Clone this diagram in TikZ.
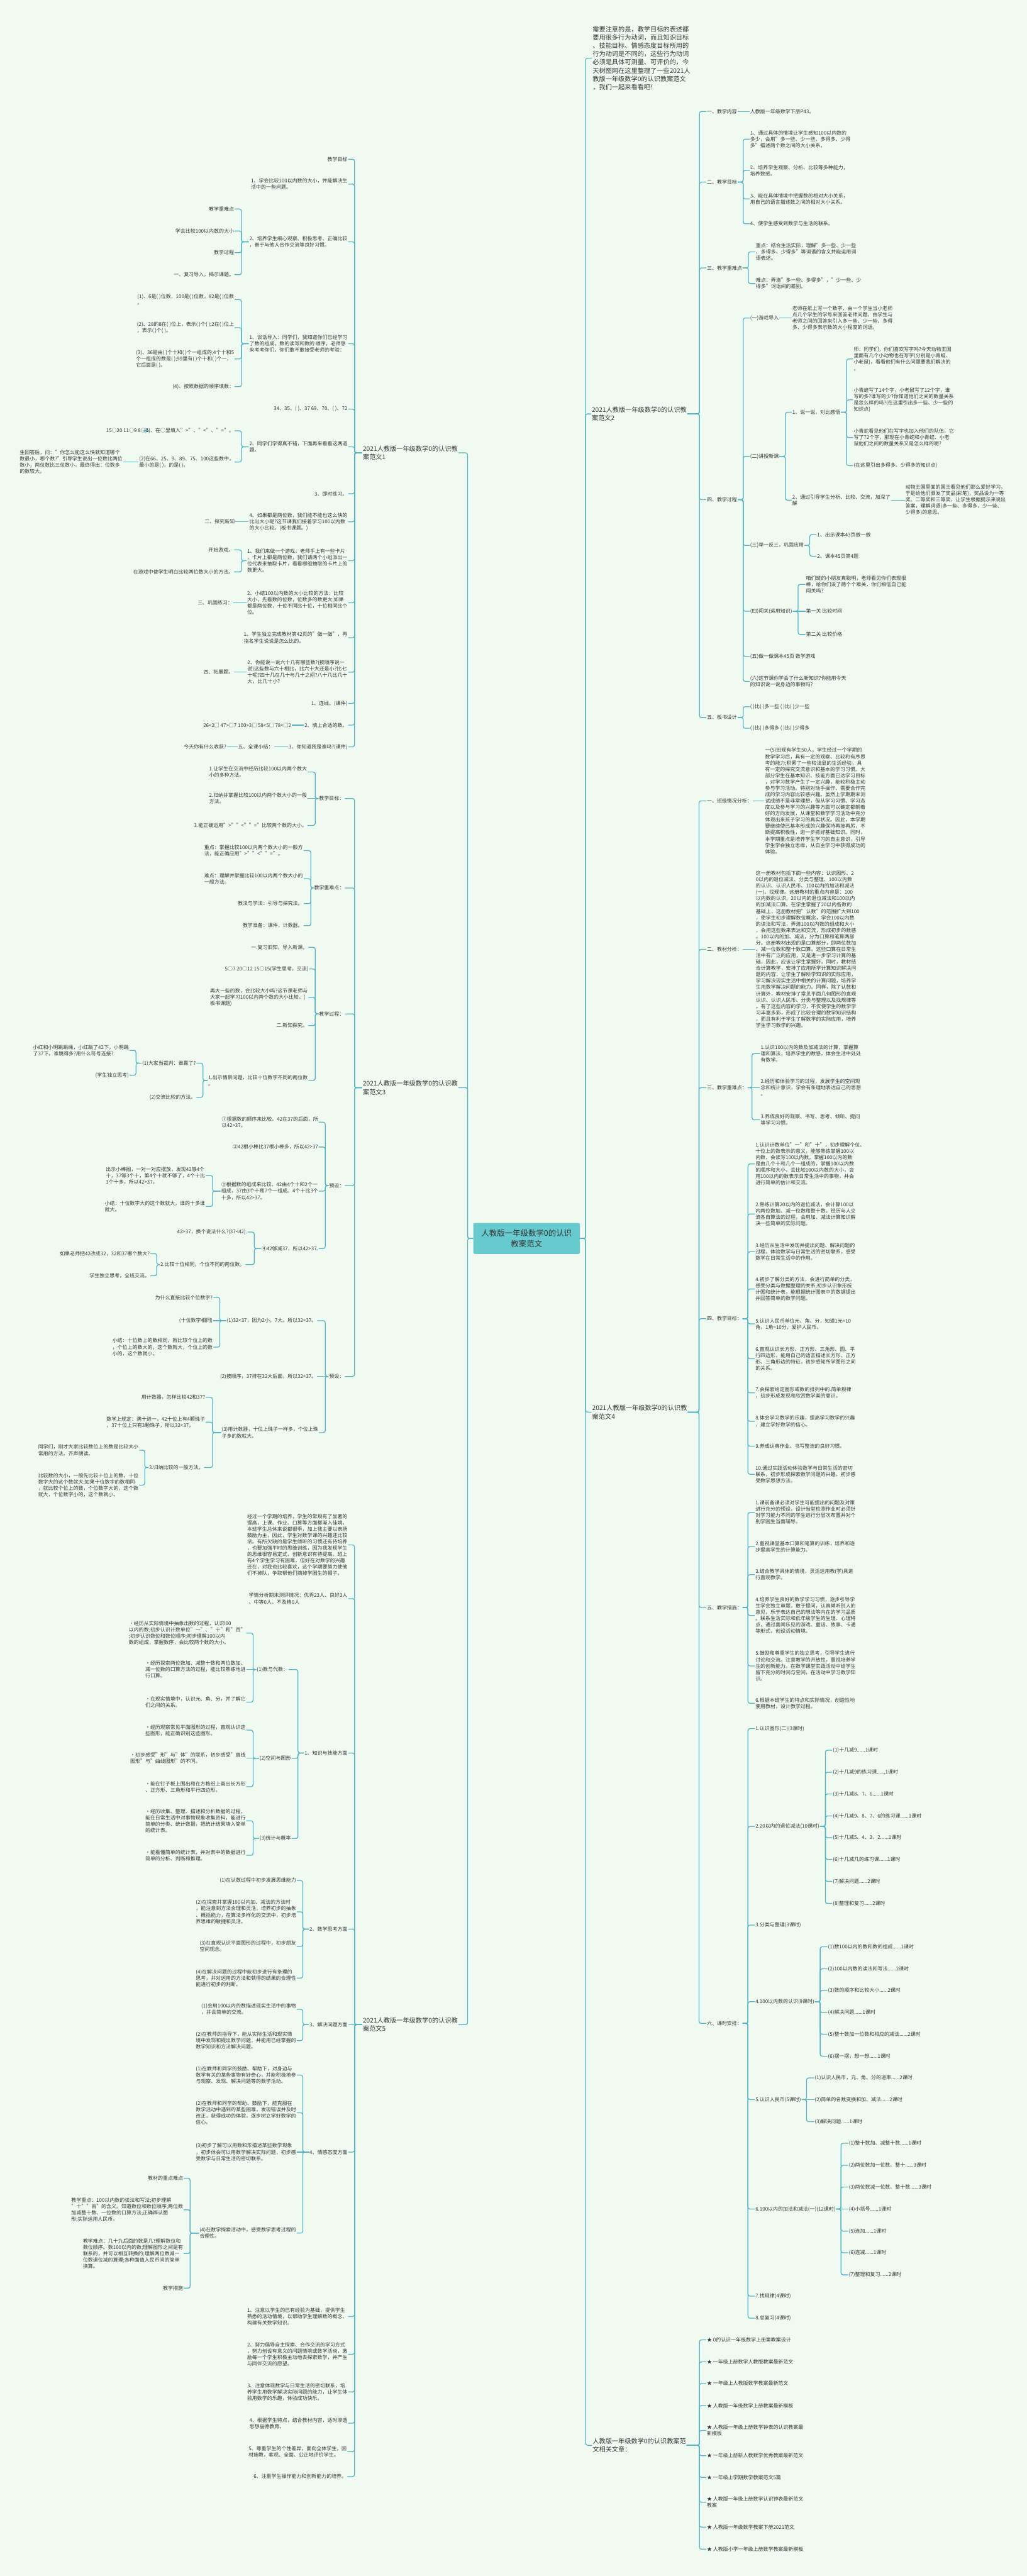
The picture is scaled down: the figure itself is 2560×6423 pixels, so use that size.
\documentclass[tikz,border=0pt]{standalone}
\usepackage{fontspec}
\setmainfont{Noto Sans CJK SC}
\definecolor{bg}{HTML}{F0FAF1}
\definecolor{lc}{HTML}{55B3C3}
\definecolor{cf}{HTML}{66CACE}
\definecolor{txt}{HTML}{333333}
\newcommand\szs{\fontsize{12.5}{15.8}\selectfont}
\newcommand\szb{\fontsize{16}{21.5}\selectfont}
\newcommand\szi{\fontsize{16}{20.7}\selectfont}
\newcommand\szc{\fontsize{19.5}{27}\selectfont}
\tikzset{
  base/.style={font=\szs, text=txt, align=left, inner sep=1.5pt},
  L/.style={base, anchor=east},
  R/.style={base, anchor=west},
  LB/.style={base, font=\szb, anchor=east},
  RB/.style={base, font=\szb, anchor=west},
  conn/.style={draw=lc, line width=2pt, rounded corners=5pt},
  ctr/.style={fill=cf, rounded corners=4pt, font=\szc, text=txt, align=center, minimum width=266pt, minimum height=77pt, inner sep=2pt}
}
\newcommand\rgrp[3]{\foreach \cc in {#3}{\draw[conn] (#1.east) -- (#1.east -| #2,0) -- (\cc.west -| #2,0) -- (\cc.west);}}
\newcommand\lgrp[3]{\foreach \cc in {#3}{\draw[conn] (#1.west) -- (#1.west -| #2,0) -- (\cc.east -| #2,0) -- (\cc.east);}}
\newcommand\rstr[2]{\draw[conn] (#1.east) -- (#2.west);}
\newcommand\lstr[2]{\draw[conn] (#1.west) -- (#2.east);}
\begin{document}
\begin{tikzpicture}[x=1pt,y=-1pt]
\fill[bg] (0,0) rectangle (2560,6423);
\useasboundingbox (0,0) rectangle (2560,6423);
% ---------------- center
\node[ctr] (C) at (1313,3088) {人教版一年级数学0的认识\\教案范文};
\node[RB, font=\szi] (P0) at (1476,145) {需要注意的是，教学目标的表述都\\要用很多行为动词，而且知识目标\\、技能目标、情感态度目标所用的\\行为动词是不同的，这些行为动词\\必须是具体可测量、可评价的，今\\天树图网在这里整理了一些2021人\\教版一年级数学0的认识教案范文\\，我们一起来看看吧！};
\node[RB] (B2) at (1474,1032) {2021人教版一年级数学0的认识教\\案范文2};
\node[RB] (B4) at (1475,3521) {2021人教版一年级数学0的认识教\\案范文4};
\node[RB] (BR) at (1476,6097) {人教版一年级数学0的认识教案范\\文相关文章：};
\rgrp{C}{1460}{P0,B2,B4,BR}
\node[LB] (B1) at (1143,1129) {2021人教版一年级数学0的认识教\\案范文1};
\node[LB] (B3) at (1143,2712) {2021人教版一年级数学0的认识教\\案范文3};
\node[LB] (B5) at (1143,5048) {2021人教版一年级数学0的认识教\\案范文5};
\lgrp{C}{1166}{B1,B3,B5}
% ---------------- branch 1
\node[L] (n1a) at (868,397) {教学目标};
\node[L] (n1b) at (868,459) {1、学会比较100以内数的大小，并能解决生\\活中的一些问题。};
\node[L] (n1c) at (868,603) {2、培养学生细心观察、积极思考、正确比较\\，善于与他人合作交流等良好习惯。};
\node[L] (n1c1) at (585,521) {教学重难点};
\node[L] (n1c2) at (585,576) {学会比较100以内数的大小};
\node[L] (n1c3) at (585,630) {教学过程};
\node[L] (n1c4) at (585,685) {一、复习导入，揭示课题。};
\lgrp{n1c}{602}{n1c1,n1c2,n1c3,n1c4}
\node[L] (n1d) at (868,857) {1、谈话导入：同学们，我知道你们已经学习\\了数的组成，数的读写和数的 顺序，老师想\\来考考你们，你们敢不敢接受老师的考验：};
\node[L] (n1d1) at (585,747) {(1)、6是( )位数，100是( )位数，82是( )位数\\。};
\node[L] (n1d2) at (585,817) {(2)、28的8在( )位上，表示( )个( );2在( )位上\\，表示( )个( )。};
\node[L] (n1d3) at (585,895) {(3)、36是由( )个十和( )个一组成的;4个十和5\\个一组成的数是( );99里有( )个十和( )个一，\\它后面是( )。};
\node[L] (n1d4) at (585,964) {(4)、按照数据的顺序填数：};
\lgrp{n1d}{602}{n1d1,n1d2,n1d3,n1d4}
\node[L] (n1e) at (868,1020) {34、35、( )、37 69、70、( )、72};
\node[L] (n1f) at (868,1114) {2、同学们学得真不错，下面再来看看这两道\\题。};
\node[L] (n1f1) at (585,1074) {(1)、在○里填入">"、"<"、"="。};
\node[L] (n1f1a) at (372,1074) {15○20 11○9 8○8};
\node[L] (n1f2) at (585,1152) {(2)在66、25、9、89、75、100这些数中，\\最小的是( )，的是( )。};
\node[L] (n1f2a) at (307,1152) {生回答后，问："你怎么能这么快就知道哪个\\数最小，哪个数?"引导学生说出一位数比两位\\数小，两位数比三位数小，最终得出：位数多\\的数较大。};
\lgrp{n1f}{602}{n1f1,n1f2}
\lstr{n1f1}{n1f1a}
\lstr{n1f2}{n1f2a}
\node[L] (n1g) at (868,1231) {3、即时练习。};
\node[L] (n1h) at (868,1301) {4、如果都是两位数，我们能不能也这么快的\\比出大小呢?这节课我们接着学习100以内数\\的大小比较。(板书课题。)};
\node[L] (n1h1) at (587,1301) {二、探究新知};
\lstr{n1h}{n1h1}
\node[L] (n1i) at (868,1398) {1、我们来做一个游戏，老师手上有一些卡片\\，卡片上都是两位数，我们请两个小组派出一\\位代表来抽取卡片，看看哪组抽取的卡片上的\\数更大。};
\node[L] (n1i1) at (584,1371) {开始游戏。};
\node[L] (n1i2) at (584,1426) {在游戏中使学生明白比较两位数大小的方法。};
\lgrp{n1i}{602}{n1i1,n1i2}
\node[L] (n1j) at (868,1503) {2、小结100以内数的大小比较的方法：比较\\大小，先看数的位数，位数多的数更大;如果\\都是两位数，十位不同比十位，十位相同比个\\位。};
\node[L] (n1j1) at (582,1503) {三、巩固练习：};
\lstr{n1j}{n1j1}
\node[L] (n1k) at (868,1590) {1、学生独立完成教材第42页的"做一做"，再\\指名学生说说是怎么比的。};
\node[L] (n1l) at (868,1676) {2、你能说一说六十几有哪些数?(按顺序说一\\说)这些数与六十相比，比六十大还是小?比七\\十呢?四十几在几十与几十之间?八十几比几十\\大，比几十小?};
\node[L] (n1l1) at (584,1676) {四、拓展题。};
\lstr{n1l}{n1l1}
\node[L] (n1m) at (868,1754) {1、连线。(课件)};
\node[L] (n1n) at (868,1808) {2、填上合适的数。};
\node[L] (n1n1) at (728,1808) {26<2□ 47>□7 100>3□ 58<5□ 78<□2};
\lstr{n1n}{n1n1}
\node[L] (n1o) at (868,1862) {3、你知道我是谁吗?(课件)};
\node[L] (n1o1) at (683,1862) {五、全课小结：};
\node[L] (n1o2) at (566,1862) {今天你有什么收获?};
\lstr{n1o}{n1o1}
\lstr{n1o1}{n1o2}
\lgrp{B1}{884}{n1a,n1b,n1c,n1d,n1e,n1f,n1g,n1h,n1i,n1j,n1k,n1l,n1m,n1n,n1o}
% ---------------- branch 3
\node[L] (n3a) at (860,1991) {教学目标：};
\node[L] (n3a1) at (767,1925) {1.让学生在交流中经历比较100以内两个数大\\小的多种方法。};
\node[L] (n3a2) at (767,1991) {2.归纳并掌握比较100以内两个数大小的一般\\方法。};
\node[L] (n3a3) at (767,2058) {3.能正确运用">""<""="比较两个数的大小。};
\lgrp{n3a}{786}{n3a1,n3a3}
\lstr{n3a}{n3a2}
\node[L] (n3b) at (860,2214) {教学重难点：};
\node[L] (n3b1) at (757,2121) {重点：掌握比较100以内两个数大小的一般方\\法，能正确应用">""<""="。};
\node[L] (n3b2) at (757,2191) {难点：理解并掌握比较100以内两个数大小的\\一般方法。};
\node[L] (n3b3) at (757,2253) {教法与学法：引导与探究法。};
\node[L] (n3b4) at (757,2308) {教学准备：课件，计数器。};
\lgrp{n3b}{775}{n3b1,n3b2,n3b3,n3b4}
\node[L] (n3c) at (860,2528) {教学过程：};
\node[L] (n3c1) at (769,2362) {一.复习旧知，导入新课。};
\node[L] (n3c2) at (771,2416) {5○7 20○12 15○15(学生思考，交流)};
\node[L] (n3c3) at (769,2487) {再大一些的数，会比较大小吗?这节课老师与\\大家一起学习100以内两个数的大小比较。(\\板书课题)};
\node[L] (n3c4) at (769,2557) {二.新知探究。};
\node[L] (n3c5) at (769,2694) {1.出示情景问题，比较十位数字不同的两位数\\。};
\lgrp{n3c}{786}{n3c1,n3c2,n3c3,n3c4,n3c5}
\node[L] (n3c5a) at (490,2651) {(1)大家当裁判：谁赢了?};
\node[L] (n3c5b) at (490,2736) {(2)交流比较的方法。};
\lgrp{n3c5}{506}{n3c5a,n3c5b}
\node[L] (n3c5a1) at (323,2619) {小红和小明跳跳绳，小红跳了42下，小明跳\\了37下。谁跳得多?用什么符号连接?};
\node[L] (n3c5a2) at (323,2681) {(学生独立思考)};
\lgrp{n3c5a}{339}{n3c5a1,n3c5a2}
\node[L] (n3d) at (860,2956) {预设：};
\node[L] (n3d1) at (795,2798) {①根据数的顺序来比较。42在37的后面，所\\以42>37。};
\node[L] (n3d2) at (795,2860) {②42根小棒比37根小棒多，所以42>37};
\node[L] (n3d3) at (795,2970) {③根据数的组成来比较。42由4个十和2个一\\组成，37由3个十和7个一组成。4个十比3个\\十多，所以42>37。};
\node[L] (n3d4) at (795,3113) {④42够减37，所以42>37.};
\lgrp{n3d}{811}{n3d1,n3d2,n3d3,n3d4}
\node[L] (n3d3a) at (513,2931) {出示小棒图，一对一对应摆放，发现42够4个\\十，37够3个十，第4个十就不够了，4个十比\\3个十多，所以42>37。};
\node[L] (n3d3b) at (513,3008) {小结：十位数字大的这个数就大，谁的十多谁\\就大。};
\lgrp{n3d3}{530}{n3d3a,n3d3b}
\node[L] (n3d4a) at (618,3072) {42>37，换个说法什么?(37<42).};
\node[L] (n3d4b) at (612,3153) {2.比较十位相同，个位不同的两位数。};
\lgrp{n3d4}{634}{n3d4a,n3d4b}
\node[L] (n3d4b1) at (375,3126) {如果老师把42改成32，32和37哪个数大?};
\node[L] (n3d4b2) at (375,3181) {学生独立思考，全班交流。};
\lgrp{n3d4b}{391}{n3d4b1,n3d4b2}
\node[L] (n3e) at (860,3432) {预设：};
\node[L] (n3e1) at (791,3293) {(1)32<37，因为2小，7大。所以32<37。};
\node[L] (n3e2) at (791,3432) {(2)按顺序，37排在32大后面，所以32<37。};
\node[L] (n3e3) at (795,3572) {(3)用计数器，十位上珠子一样多，个位上珠\\子多的数就大。};
\lgrp{n3e}{811}{n3e1,n3e3}
\lstr{n3e}{n3e2}
\node[L] (n3e1a) at (532,3235) {为什么直接比较个位数字?};
\node[L] (n3e1b) at (532,3293) {(十位数字相同)};
\node[L] (n3e1c) at (532,3359) {小结：十位数上的数相同，就比较个位上的数\\，个位上的数大的，这个数就大，个位上的数\\小的，这个数就小。};
\lgrp{n3e1}{548}{n3e1a,n3e1c}
\lstr{n3e1}{n3e1b}
\node[L] (n3e3a) at (513,3484) {用计数器，怎样比较42和37?};
\node[L] (n3e3b) at (513,3546) {数学上规定：满十进一，42十位上有4颗珠子\\，37十位上只有3颗珠子，所以32<37。};
\node[L] (n3e3c) at (509,3659) {3.归纳比较的一般方法。};
\lgrp{n3e3}{530}{n3e3a,n3e3b,n3e3c}
\node[L] (n3e3c1) at (347,3616) {同学们，刚才大家比较数位上的数是比较大小\\常用的方法。齐声朗读。};
\node[L] (n3e3c2) at (347,3703) {比较数的大小，一般先比较十位上的数，十位\\数字大的这个数就大;如果十位数字的数相同\\，就比较个位上的数，个位数字大的，这个数\\就大，个位数字小的，这个数就小。};
\lgrp{n3e3c}{361}{n3e3c1,n3e3c2}
\lgrp{B3}{884}{n3a,n3b,n3c,n3d,n3e}
% ---------------- branch 5
\node[L] (n5a) at (868,3852) {经过一个学期的培养，学生的常规有了显著的\\提高，上课、作业、口算等方面都渐入佳境，\\本班学生总体来说都很乖，加上我主要以表扬\\鼓励为主，因此，学生对数学课的兴趣还比较\\浓。有所欠缺的是学生倾听的习惯还有待培养\\，也要加强平时的思维训练，因为我发现学生\\的思维很容易定式，创新意识有待提高。班上\\有4个学生学习有困难，但好在对数学的兴趣\\还在，对我也比较喜欢，这个学期要努力使他\\们不掉队，争取帮他们摘掉学困生的帽子。};
\node[L] (n5b) at (868,3986) {学情分析期末测评情况：优秀23人、良好3人\\、中等0人、不及格0人};
\node[L] (n5c) at (868,4371) {1、知识与技能方面};
\node[L] (n5c1) at (720,4163) {(1)数与代数：};
\node[L] (n5c2) at (727,4384) {(2)空间与图形};
\node[L] (n5c3) at (727,4584) {(3)统计与概率};
\lgrp{n5c}{743}{n5c1,n5c2,n5c3}
\node[L] (n5c1a) at (614,4072) {·经历从实际情境中抽象出数的过程，认识l00\\以内的数;初步认识计数单位"一"、"十"和"百"\\;初步认识数位和数位顺序;初步理解100以内\\数的组成，掌握数序，会比较两个数的大小。};
\node[L] (n5c1b) at (614,4163) {·经历探索两位数加、减整十数和两位数加、\\减一位数的口算方法的过程，能比较熟练地进\\行口算。};
\node[L] (n5c1c) at (614,4244) {·在现实情境中，认识元、角、分，并了解它\\们之间的关系。};
\lgrp{n5c1}{631}{n5c1a,n5c1c}
\lstr{n5c1}{n5c1b}
\node[L] (n5c2a) at (614,4314) {·经历观察常见平面图形的过程，直观认识这\\些图形，能正确识别这些图形。};
\node[L] (n5c2b) at (614,4384) {·初步感受"形"与"体"的联系，初步感受"直线\\图形"与"曲线图形"的不同。};
\node[L] (n5c2c) at (614,4455) {·能在钉子板上围出和在方格纸上画出长方形\\、正方形、三角形和平行四边形。};
\lgrp{n5c2}{631}{n5c2a,n5c2c}
\lstr{n5c2}{n5c2b}
\node[L] (n5c3a) at (614,4540) {·经历收集、整理、描述和分析数据的过程，\\能在日常生活中对事物现象收集资料，能进行\\简单的分类、统计数据，把统计结果填入简单\\的统计表。};
\node[L] (n5c3b) at (614,4626) {·能看懂简单的统计表，并对表中的数据进行\\简单的分析、判断和推理。};
\lgrp{n5c3}{631}{n5c3a,n5c3b}
\node[L] (n5d) at (868,4810) {2、数学思考方面};
\node[L] (n5d1) at (740,4689) {(1)在认数过程中初步发展思维能力};
\node[L] (n5d2) at (740,4767) {(2)在探索并掌握100以内加、减法的方法时\\，能注意到方法合理和灵活，培养初步的抽象\\、概括能力，在算法多样化的交流中，初步培\\养思维的敏捷和灵活。};
\node[L] (n5d3) at (740,4853) {(3)在直观认识平面图形的过程中，初步朋友\\空间观念。};
\node[L] (n5d4) at (740,4932) {(4)在解决问题的过程中能初步进行有条理的\\思考，并对运用的方法和获得的结果的合理性\\能进行初步的判断。};
\lgrp{n5d}{755}{n5d1,n5d2,n5d3,n5d4}
\node[L] (n5e) at (868,5048) {3、解决问题方面};
\node[L] (n5e1) at (740,5010) {(1)会用100以内的数描述现实生活中的事物\\，并会简单的交流。};
\node[L] (n5e2) at (740,5088) {(2)在教师的指导下，能从实际生活和现实情\\境中发现和提出数学问题，并能用已经掌握的\\数学知识和方法解决问题。};
\lgrp{n5e}{755}{n5e1,n5e2}
\node[L] (n5f) at (868,5366) {4、情感态度方面};
\node[L] (n5f1) at (740,5174) {(1)在教师和同学的鼓励、帮助下，对身边与\\数学有关的某些事物有好奇心，并能积极地参\\与观察、发现、解决问题等的数学活动。};
\node[L] (n5f2) at (740,5268) {(2)在教师和同学的帮助、鼓励下，能克服在\\数学活动中遇到的某些困难，发现错误并及时\\改正，获得成功的体验，逐步树立学好数学的\\信心。};
\node[L] (n5f3) at (740,5366) {(3)初步了解可以用数和形描述某些数学现象\\，初步体会可以用数学解决实际问题，初步感\\受数学与日常生活的密切联系。};
\node[L] (n5f4) at (740,5568) {(4)在数学探索活动中，感受数学思考过程的\\合理性。};
\lgrp{n5f}{755}{n5f1,n5f2,n5f4}
\lstr{n5f}{n5f3}
\node[L] (n5f4a) at (458,5431) {教材的重点难点};
\node[L] (n5f4b) at (458,5510) {教学重点：100以内数的读法和写法;初步理解\\"十""百"的含义。知道数位和数位顺序;两位数\\加减整十数、一位数的口算方法;正确辨认图\\形;实际运用人民币。};
\node[L] (n5f4c) at (458,5619) {教学难点：几十九后面的数是几?理解数位和\\数位顺序。数100以内的数;理解图形之间是有\\联系的，并可以相互转换的;理解两位数减一\\位数退位减的算理;各种面值人民币间的简单\\换算。};
\node[L] (n5f4d) at (458,5705) {教学措施};
\lgrp{n5f4}{474}{n5f4a,n5f4b,n5f4c,n5f4d}
\node[L] (n5g) at (868,5776) {1、注意以学生的已有经验为基础，提供学生\\熟悉的活动情境，以帮助学生理解数的概念、\\构建有关数学知识。};
\node[L] (n5h) at (868,5870) {2、努力倡导自主探索、合作交流的学习方式\\，努力创设有意义的问题情境或数学活动，激\\励每一个学生积极主动地去探索数学，并产生\\与同伴交流的愿望。};
\node[L] (n5i) at (868,5964) {3、注意体现数学与日常生活的密切联系，培\\养学生用数学解决实际问题的能力，让学生体\\验用数学的乐趣，体验成功快乐。};
\node[L] (n5j) at (868,6042) {4、根据学生特点，结合教材内容，适时渗透\\思想品德教育。};
\node[L] (n5k) at (866,6113) {5、尊重学生的个性差异，面向全体学生，因\\材施教，客观、全面、公正地评价学生。};
\node[L] (n5l) at (866,6175) {6、注重学生操作能力和创新能力的培养。};
\lgrp{B5}{884}{n5a,n5b,n5c,n5d,n5f,n5g,n5h,n5i,n5j,n5k,n5l}
\lstr{B5}{n5e}
% ---------------- branch 2
\node[R] (n2a) at (1761,278) {一、教学内容};
\node[R] (n2a1) at (1869,278) {人教版一年级数学下册P43。};
\rstr{n2a}{n2a1}
\node[R] (n2b) at (1761,454) {二、教学目标};
\node[R] (n2b1) at (1869,347) {1、通过具体的情境让学生感知100以内数的\\多少，会用"多一些、少一些、多得多、少得\\多"描述两个数之间的大小关系。};
\node[R] (n2b2) at (1869,425) {2、培养学生观察、分析、比较等多种能力，\\培养数感。};
\node[R] (n2b3) at (1869,496) {3、能在具体情境中把握数的相对大小关系，\\用自己的语言描述数之间的相对大小关系。};
\node[R] (n2b4) at (1869,558) {4、使学生感受到数学与生活的联系。};
\rgrp{n2b}{1853}{n2b1,n2b2,n2b3,n2b4}
\node[R] (n2c) at (1761,668) {三、教学重难点};
\node[R] (n2c1) at (1883,628) {重点：结合生活实际，理解"多一些、少一些\\、多得多、少得多"等词语的含义并能运用词\\语表述。};
\node[R] (n2c2) at (1883,707) {难点：弄清"多一些、多得多"，"少一些、少\\得多"词语间的差别。};
\rgrp{n2c}{1866}{n2c1,n2c2}
\node[R] (n2d) at (1761,1246) {四、教学过程};
\node[R] (n2d1) at (1869,793) {(一)游戏导入};
\node[R] (n2d1a) at (1974,793) {老师在纸上写一个数字，由一个学生当小老师\\点几个学生的学号来回答老师问题，由学生与\\老师之间的回答来引入多一些、少一些、多得\\多、少得多表示数的大小程度的词语。};
\rstr{n2d1}{n2d1a}
\node[R] (n2d2) at (1869,1138) {(二)讲授新课};
\node[R] (n2d2a) at (1974,1028) {1、说一说，对比感悟};
\node[R] (n2d2a1) at (2127,895) {师：同学们，你们喜欢写字吗?今天动物王国\\里面有几个小动物也在写字(分别是小青蛙、\\小老鼠)，看看他们有什么问题要我们解决的\\。};
\node[R] (n2d2a2) at (2127,997) {小青蛙写了14个字，小老鼠写了12个字，谁\\写的多?谁写的少?你知道他们之间的数量关系\\是怎么样的吗?(在这里引出多一些、少一些的\\知识点)};
\node[R] (n2d2a3) at (2127,1091) {小青蛇看见他们在写字也加入他们的队伍，它\\写了72个字，那现在小青蛇和小青蛙、小老\\鼠他们之间的数量关系又是怎么样的呢?};
\node[R] (n2d2a4) at (2127,1161) {(在这里引出多得多、少得多的知识点)};
\rgrp{n2d2a}{2111}{n2d2a1,n2d2a2,n2d2a3,n2d2a4}
\node[R] (n2d2b) at (1974,1247) {2、通过引导学生分析、比较、交流，加深了\\解};
\node[R] (n2d2b1) at (2256,1247) {动物王国里面的国王看见他们那么爱好学习，\\于是给他们颁发了奖品(彩笔)，奖品设为一等\\奖、二等奖和三等奖，让学生根据提示来说出\\答案，理解词语(多一些、多得多，少一些、\\少得多)的意思。};
\rstr{n2d2b}{n2d2b1}
\rgrp{n2d2}{1958}{n2d2a,n2d2b}
\node[R] (n2d3) at (1869,1360) {(三)举一反三，巩固应用};
\node[R] (n2d3a) at (2036,1333) {1、出示课本43页做一做};
\node[R] (n2d3b) at (2036,1387) {2、课本45页第4题};
\rgrp{n2d3}{2019}{n2d3a,n2d3b}
\node[R] (n2d4) at (1869,1524) {(四)闯关(运用知识)};
\node[R] (n2d4a) at (2008,1457) {咱们班的小朋友真聪明，老师看见你们表现很\\棒，给你们设了两个个难关，你们相信自己能\\闯关吗?};
\node[R] (n2d4b) at (2008,1524) {第一关 比较时间};
\node[R] (n2d4c) at (2008,1582) {第二关 比较价格};
\rgrp{n2d4}{1990}{n2d4a,n2d4c}
\rstr{n2d4}{n2d4b}
\node[R] (n2d5) at (1869,1637) {(五)做一做课本45页 数学游戏};
\node[R] (n2d6) at (1869,1699) {(六)这节课你学会了什么新知识?你能用今天\\的知识说一说身边的事物吗?};
\rgrp{n2d}{1853}{n2d1,n2d2,n2d3,n2d4,n2d5,n2d6}
\node[R] (n2e) at (1761,1789) {五、板书设计};
\node[R] (n2e1) at (1869,1762) {( )比( )多一些 ( )比( )少一些};
\node[R] (n2e2) at (1869,1816) {( )比( )多得多 ( )比( )少得多};
\rgrp{n2e}{1853}{n2e1,n2e2}
\rgrp{B2}{1744}{n2a,n2b,n2c,n2d,n2e}
% ---------------- branch 4
\node[R] (n4a) at (1761,1997) {一、班级情况分析：};
\node[R] (n4a1) at (1906,1997) {一(5)班现有学生50人，学生经过一个学期的\\数学学习后，具有一定的观察、比较和有序思\\考的能力;积累了一些较浅显的生活经验，具\\有一定的探究交流意识和基本的学习习惯。大\\部分学生在基本知识、技能方面已达学习目标\\，对学习数学产生了一定兴趣，能较积极主动\\参与学习活动。特别对动手操作、需要合作完\\成的学习内容比较感兴趣。虽然上学期期末测\\试成绩不是非常理想，但从学习习惯、学习态\\度以及参与学习的兴趣等方面可以确定都朝着\\好的方向发展，从课堂和数学学习活动中充分\\体现出来孩子学习的真实状况。因此，本学期\\要继续使已基本形成的兴趣保持再接再厉，不\\断提高积极性，进一步抓好基础知识。同时，\\本学期重点是培养学生学习的自主意识，引导\\学生学会独立思维，从自主学习中获得成功的\\体验。};
\rstr{n4a}{n4a1}
\node[R] (n4b) at (1761,2367) {二、教材分析：};
\node[R] (n4b1) at (1883,2367) {这一册教材包括下面一些内容：认识图形、2\\0以内的退位减法、分类与整理、100以内数\\的认识、认识人民币、100以内的加法和减法\\(一)、找规律。这册教材的重点内容是：100\\以内数的认识，20以内的退位减法和100以内\\的加减法口算。在学生掌握了20以内各数的\\基础上，这册教材把"认数"的范围扩大到100\\，使学生初步理解数位概念，学会100以内数\\的读法和写法，弄清100以内数的组成和大小\\，会用这些数来表达和交流，形成初步的数感\\。100以内的加、减法，分为口算和笔算两部\\分。这册教材出现的是口算部分，即两位数加\\、减一位数和整十数口算。这些口算在日常生\\活中有广泛的应用，又是进一步学习计算的基\\础，因此，应该让学生掌握好。同时，教材结\\合计算教学，安排了应用所学计算知识解决问\\题的内容，让学生了解所学知识的实际应用，\\学习解决现实生活中相关的计算问题，培养学\\生用数学解决问题的能力。同样，除了认数和\\计算外，教材安排了常见平面几何图形的直观\\认识、认识人民币、分类与整理以及找规律等\\。有了这些内容的学习，不仅使学生的数学学\\习丰富多彩，形成了比较合理的数学知识结构\\，而且有利于学生了解数学的实际应用，培养\\学生学习数学的兴趣。};
\rstr{n4b}{n4b1}
\node[R] (n4c) at (1761,2712) {三、教学重难点：};
\node[R] (n4c1) at (1895,2627) {1.认识100以内的数及加减法的计算，掌握算\\理和算法，培养学生的数感，体会生活中处处\\有数学。};
\node[R] (n4c2) at (1895,2712) {2.经历和体验学习的过程，发展学生的空间观\\念和统计意识，学会有条理地表达自己的思想\\。};
\node[R] (n4c3) at (1895,2792) {3.养成良好的观察、书写、思考、倾听、提问\\等学习习惯。};
\rgrp{n4c}{1875}{n4c1,n4c3}
\rstr{n4c}{n4c2}
\node[R] (n4d) at (1761,3288) {四、教学目标：};
\node[R] (n4d1) at (1882,2902) {1.认识计数单位"一"和"十"，初步理解个位、\\十位上的数表示的意义，能够熟练掌握100以\\内数，会读写100以内数。掌握100以内的数\\是由几个十和几个一组成的，掌握100以内数\\的顺序和大小，会比较100以内数的大小，会\\用100以内的数表示日常生活中的事物，并会\\进行简单的估计和交流。};
\node[R] (n4d2) at (1882,3027) {2.熟练计算20以内的退位减法，会计算100以\\内两位数加、减一位数和整十数，经历与人交\\流各自算法的过程，会用加、减法计算知识解\\决一些简单的实际问题。};
\node[R] (n4d3) at (1882,3121) {3.经历从生活中发现并提出问题、解决问题的\\过程，体验数学与日常生活的密切联系，感受\\数学在日常生活中的作用。};
\node[R] (n4d4) at (1882,3214) {4.初步了解分类的方法，会进行简单的分类，\\感受分类与数据整理的关系;初步认识象形统\\计图和统计表，能根据统计图表中的数据提出\\并回答简单的数学问题。};
\node[R] (n4d5) at (1882,3301) {5.认识人民币单位元、角、分，知道1元=10\\角，1角=10分，爱护人民币。};
\node[R] (n4d6) at (1882,3388) {6.直观认识长方形、正方形、三角形、圆、平\\行四边形，能用自己的语言描述长方形、正方\\形、三角形边的特征，初步感知所学图形之间\\的关系。};
\node[R] (n4d7) at (1882,3473) {7.会探索给定图形或数的排列中的.简单规律\\，初步形成发现和欣赏数学美的意识。};
\node[R] (n4d8) at (1882,3544) {8.体会学习数学的乐趣，提高学习数学的兴趣\\，建立学好数学的信心。};
\node[R] (n4d9) at (1882,3606) {9.养成认真作业、书写整洁的良好习惯。};
\node[R] (n4d10) at (1882,3676) {10.通过实践活动体验数学与日常生活的密切\\联系，初步形成探索数学问题的兴趣，初步感\\受数学思想方法。};
\rgrp{n4d}{1865}{n4d1,n4d2,n4d3,n4d4,n4d5,n4d6,n4d7,n4d8,n4d9,n4d10}
\node[R] (n4e) at (1761,4008) {五、教学措施：};
\node[R] (n4e1) at (1882,3771) {1.课前备课必须对学生可能提出的问题及对策\\进行充分的预设，设计当堂检测作业时必须针\\对学习能力不同的学生进行分层次布置并对个\\别学困生当面辅导。};
\node[R] (n4e2) at (1882,3856) {2.重视课堂基本口算和笔算的训练，培养和逐\\步提高学生的计算能力。};
\node[R] (n4e3) at (1882,3926) {3.结合教学具体的情境，灵活运用教(学)具进\\行直观教学。};
\node[R] (n4e4) at (1882,4028) {4.培养学生良好的数学学习习惯，逐步引导学\\生学会独立审题，敢于提问，认真倾听别人的\\意见，乐于表达自己的想法等内在的学习品质\\。联系生活实际和低年级学生的生理、心理特\\点，通过喜闻乐见的游戏、童话、故事、卡通\\等形式，创设活动情境。};
\node[R] (n4e5) at (1882,4154) {5.鼓励和尊重学生的独立思考，引导学生进行\\讨论和交流。注意教学的开放性，重视培养学\\生的创新能力。在数学课堂实践活动中给学生\\留下充分的时间与空间，在活动中学习数学知\\识。};
\node[R] (n4e6) at (1882,4247) {6.根据本班学生的特点和实际情况，创造性地\\使用教材，设计教学过程。};
\rgrp{n4e}{1865}{n4e1,n4e2,n4e3,n4e4,n4e5,n4e6}
\node[R] (n4f) at (1761,5045) {六、课时安排：};
\node[R] (n4f1) at (1882,4310) {1.认识图形(二)(3课时)};
\node[R] (n4f2) at (1882,4554) {2.20以内的退位减法(10课时)};
\node[R] (n4f2a) at (2075,4364) {(1)十几减9......1课时};
\node[R] (n4f2b) at (2075,4419) {(2)十几减9的练习课......1课时};
\node[R] (n4f2c) at (2075,4473) {(3)十几减8、7、6......1课时};
\node[R] (n4f2d) at (2075,4528) {(4)十几减9、8、7、6的练习课......1课时};
\node[R] (n4f2e) at (2075,4582) {(5)十几减5、4、3、2......1课时};
\node[R] (n4f2f) at (2075,4636) {(6)十几减几的练习课......1课时};
\node[R] (n4f2g) at (2075,4691) {(7)解决问题......2课时};
\node[R] (n4f2h) at (2075,4746) {(8)整理和复习......2课时};
\rgrp{n4f2}{2058}{n4f2a,n4f2b,n4f2c,n4f2d,n4f2e,n4f2f,n4f2g,n4f2h}
\node[R] (n4f3) at (1882,4800) {3.分类与整理(3课时)};
\node[R] (n4f4) at (1882,4991) {4.100以内数的认识(9课时)};
\node[R] (n4f4a) at (2063,4854) {(1)数100以内的数和数的组成......1课时};
\node[R] (n4f4b) at (2063,4909) {(2)100以内数的读法和写法......2课时};
\node[R] (n4f4c) at (2063,4963) {(3)数的顺序和比较大小......2课时};
\node[R] (n4f4d) at (2063,5018) {(4)解决问题......1课时};
\node[R] (n4f4e) at (2063,5072) {(5)整十数加一位数和相应的减法......2课时};
\node[R] (n4f4f) at (2063,5127) {(6)摆一摆，想一想......1课时};
\rgrp{n4f4}{2045}{n4f4a,n4f4b,n4f4c,n4f4d,n4f4e,n4f4f}
\node[R] (n4f5) at (1882,5235) {5.认识人民币(5课时)};
\node[R] (n4f5a) at (2030,5181) {(1)认识人民币，元、角、分的进率......2课时};
\node[R] (n4f5b) at (2030,5235) {(2)简单的名数变换和加、减法......2课时};
\node[R] (n4f5c) at (2030,5290) {(3)解决问题......1课时};
\rgrp{n4f5}{2011}{n4f5a,n4f5c}
\rstr{n4f5}{n4f5b}
\node[R] (n4f6) at (1882,5508) {6.100以内的加法和减法(一)(12课时)};
\node[R] (n4f6a) at (2115,5344) {(1)整十数加、减整十数......1课时};
\node[R] (n4f6b) at (2115,5399) {(2)两位数加一位数、整十......3课时};
\node[R] (n4f6c) at (2115,5453) {(3)两位数减一位数、整十数......3课时};
\node[R] (n4f6d) at (2115,5508) {(4)小括号......1课时};
\node[R] (n4f6e) at (2115,5563) {(5)连加......1课时};
\node[R] (n4f6f) at (2115,5617) {(6)连减......1课时};
\node[R] (n4f6g) at (2115,5672) {(7)整理和复习......2课时};
\rgrp{n4f6}{2097}{n4f6a,n4f6b,n4f6c,n4f6e,n4f6f,n4f6g}
\rstr{n4f6}{n4f6d}
\node[R] (n4f7) at (1882,5725) {7.找规律(4课时)};
\node[R] (n4f8) at (1882,5780) {8.总复习(4课时)};
\rgrp{n4f}{1865}{n4f1,n4f2,n4f3,n4f4,n4f5,n4f6,n4f7,n4f8}
\rgrp{B4}{1743}{n4a,n4b,n4c,n4d,n4e,n4f}
% ---------------- related
\node[R] (r1) at (1761,5834) {★ 0的认识一年级数学上册第教案设计};
\node[R] (r2) at (1761,5889) {★ 一年级上册数学人教版教案最新范文};
\node[R] (r3) at (1761,5943) {★ 一年级上人教版数学教案最新范文};
\node[R] (r4) at (1761,5998) {★ 人教版一年级数学上册教案最新模板};
\node[R] (r5) at (1761,6060) {★ 人教版一年级上册数学钟表的认识教案最\\新模板};
\node[R] (r6) at (1761,6123) {★ 一年级上册新人教数学优秀教案最新范文};
\node[R] (r7) at (1761,6177) {★ 一年级上学期数学教案范文5篇};
\node[R] (r8) at (1761,6239) {★ 人教版一年级上册数学认识钟表最新范文\\教案};
\node[R] (r9) at (1761,6301) {★ 人教版一年级数学教案下册2021范文};
\node[R] (r10) at (1761,6356) {★ 人教版小学一年级上册数学教案最新模板};
\rgrp{BR}{1744}{r1,r2,r3,r4,r5,r6,r7,r8,r9,r10}
\end{tikzpicture}
\end{document}
